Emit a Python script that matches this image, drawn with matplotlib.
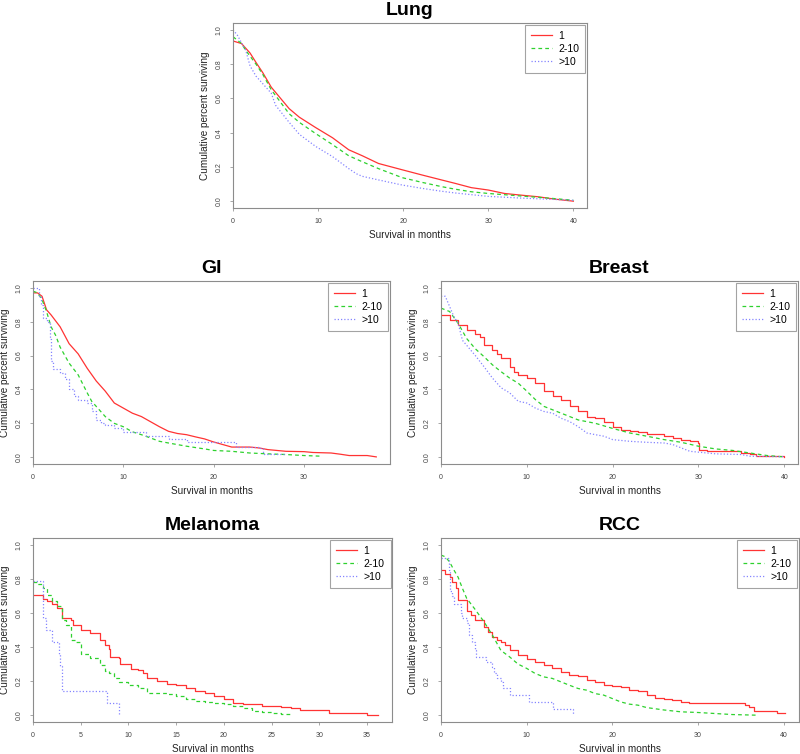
import matplotlib
matplotlib.use("Agg")
import matplotlib.pyplot as plt
from matplotlib.ticker import MultipleLocator, FormatStrFormatter

plt.rcParams["font.family"] = ["Liberation Sans", "DejaVu Sans"]

groups = ["1", "2-10", ">10"]
colors = ["#ff3333", "#2ed12e", "#8585ff"]
styles = ["-", (0, (3, 2.5)), (0, (1, 1.6))]

# Lung
lung_t1 = [0, 1, 2, 2.7, 3.5, 4.5, 6.6, 7.8, 9.7, 11.7, 13.6, 15.2, 17.1, 19.9, 22.2, 24.5, 26.1, 28, 30, 31.9, 33.9, 35.8, 37.8, 40]
lung_s1 = [0.935, 0.92, 0.865, 0.81, 0.75, 0.665, 0.54, 0.49, 0.43, 0.37, 0.3, 0.265, 0.22, 0.183, 0.153, 0.124, 0.104, 0.079, 0.065, 0.045, 0.035, 0.026, 0.012, 0.0]
lung_t2 = [0, 1, 1.5, 2.7, 3.5, 4.5, 6.6, 7.8, 9.7, 11.7, 13.6, 15.2, 17.1, 19.9, 22.2, 24.5, 26.1, 28, 30, 33.9, 37.8, 40]
lung_s2 = [0.96, 0.92, 0.88, 0.8, 0.74, 0.65, 0.51, 0.46, 0.395, 0.33, 0.265, 0.23, 0.19, 0.137, 0.11, 0.085, 0.07, 0.055, 0.045, 0.03, 0.015, 0.005]
lung_t3 = [0, 0.5, 1.5, 2, 2.7, 4.5, 5, 6.6, 7.8, 9.7, 11.7, 13.6, 14.5, 15.2, 17.1, 19.9, 22.2, 24.5, 26.1, 28, 30, 33.9, 37.8, 40]
lung_s3 = [1.0, 0.97, 0.88, 0.79, 0.73, 0.63, 0.56, 0.46, 0.39, 0.32, 0.26, 0.19, 0.16, 0.145, 0.124, 0.094, 0.075, 0.058, 0.048, 0.038, 0.028, 0.018, 0.01, 0.005]

# GI
gi_t1 = [0, 0.5, 1, 1.5, 2, 3, 4, 5, 6, 7, 8, 9, 10, 11, 12, 13, 14, 15, 16, 17, 18, 19, 20, 21, 22, 24, 25, 26, 28, 30, 31, 33, 34, 35, 37, 38]
gi_s1 = [0.97, 0.97, 0.95, 0.87, 0.84, 0.77, 0.67, 0.61, 0.525, 0.45, 0.39, 0.32, 0.29, 0.26, 0.24, 0.21, 0.18, 0.153, 0.14, 0.133, 0.12, 0.108, 0.09, 0.075, 0.06, 0.06, 0.055, 0.045, 0.035, 0.033, 0.028, 0.025, 0.018, 0.01, 0.01, 0.002]
gi_t2 = [0, 0.5, 1, 1.5, 2, 2.5, 3, 4, 5, 6, 6.5, 7, 8, 9, 10, 11, 12, 13, 14, 15, 17, 19, 20, 22, 24, 26, 28, 30, 32]
gi_s2 = [0.98, 0.97, 0.93, 0.86, 0.77, 0.72, 0.65, 0.555, 0.486, 0.38, 0.33, 0.3, 0.24, 0.2, 0.18, 0.15, 0.133, 0.114, 0.094, 0.084, 0.065, 0.049, 0.04, 0.035, 0.025, 0.02, 0.016, 0.01, 0.006]
gi_t3 = [0, 0.7, 0.9, 1.1, 1.6, 1.9, 2.0, 2.2, 3, 3.5, 4, 4.5, 5, 6, 6.5, 7, 7.5, 8, 9, 10, 12.5, 15, 17, 22.5, 25, 25.5, 28]
gi_s3 = [1.0, 0.95, 0.9, 0.82, 0.8, 0.7, 0.57, 0.52, 0.5, 0.46, 0.4, 0.36, 0.34, 0.32, 0.27, 0.22, 0.2, 0.19, 0.17, 0.15, 0.125, 0.108, 0.088, 0.06, 0.055, 0.02, 0.02]

# Breast
br_t1 = [0, 1, 1.1, 2, 3, 4, 4.5, 5, 6, 6.5, 7, 8, 8.5, 9, 10, 11, 12, 13, 14, 15, 16, 17, 18, 19, 20, 21, 22, 23, 24, 26, 27, 28, 29, 30, 30.1, 31, 33, 35, 36, 36.7, 40]
br_s1 = [0.84, 0.83, 0.81, 0.78, 0.75, 0.73, 0.71, 0.66, 0.63, 0.61, 0.585, 0.535, 0.505, 0.486, 0.467, 0.44, 0.39, 0.36, 0.34, 0.3, 0.27, 0.24, 0.23, 0.21, 0.18, 0.16, 0.153, 0.147, 0.14, 0.124, 0.114, 0.1, 0.094, 0.084, 0.04, 0.035, 0.035, 0.025, 0.02, 0.006, 0.003]
br_t2 = [0, 1, 2, 3, 4, 5, 6, 7, 8, 9, 10, 11, 12, 13, 14, 15, 16, 18, 20, 22, 24, 26, 28, 30, 32, 34, 36, 38, 40]
br_s2 = [0.88, 0.86, 0.79, 0.7, 0.64, 0.594, 0.545, 0.505, 0.467, 0.437, 0.39, 0.34, 0.3, 0.28, 0.26, 0.24, 0.22, 0.2, 0.17, 0.143, 0.124, 0.104, 0.088, 0.065, 0.049, 0.04, 0.025, 0.01, 0.002]
br_t3 = [0, 0.5, 1, 1.5, 2, 2.5, 3, 4, 5, 6, 7, 8, 9, 10, 11, 12, 13, 14, 15, 16, 17, 18, 19, 20, 22, 24, 26, 27, 28, 29, 30, 32, 35, 36, 40]
br_s3 = [0.95, 0.95, 0.89, 0.83, 0.79, 0.69, 0.66, 0.6, 0.535, 0.467, 0.41, 0.38, 0.33, 0.32, 0.29, 0.27, 0.26, 0.23, 0.21, 0.18, 0.143, 0.133, 0.124, 0.104, 0.094, 0.088, 0.084, 0.075, 0.055, 0.035, 0.03, 0.02, 0.016, 0.006, 0.003]

# Melanoma
mel_t1 = [0, 1, 1.5, 2, 2.5, 3, 4, 4.2, 5, 6, 7, 7.5, 8, 8.1, 9, 9.1, 10, 10.3, 11, 11.5, 12, 13, 14, 15, 16, 17, 18, 19, 20, 21, 22, 24, 26, 27, 28, 30, 31, 34, 35, 36.2]
mel_s1 = [0.706, 0.68, 0.67, 0.65, 0.63, 0.57, 0.56, 0.53, 0.5, 0.48, 0.44, 0.41, 0.39, 0.34, 0.333, 0.3, 0.3, 0.27, 0.265, 0.245, 0.216, 0.2, 0.186, 0.176, 0.16, 0.143, 0.133, 0.114, 0.098, 0.073, 0.063, 0.055, 0.049, 0.043, 0.03, 0.03, 0.014, 0.014, 0.004, 0.004]
mel_t2 = [0, 0.5, 1, 1.5, 2, 2.5, 3, 3.5, 4, 4.5, 5, 6, 7, 7.5, 8, 8.5, 9, 10, 11, 12, 14, 15, 16, 17, 18, 19, 20, 21, 22, 23, 24, 25, 26, 27]
mel_s2 = [0.78, 0.77, 0.745, 0.706, 0.67, 0.64, 0.56, 0.53, 0.44, 0.43, 0.36, 0.333, 0.294, 0.26, 0.245, 0.216, 0.196, 0.176, 0.16, 0.131, 0.127, 0.114, 0.094, 0.082, 0.078, 0.073, 0.063, 0.055, 0.04, 0.025, 0.02, 0.014, 0.006, 0.0]
mel_t3 = [0, 1, 1.4, 2, 2.7, 2.85, 3, 7.8, 9]
mel_s3 = [0.786, 0.571, 0.5, 0.429, 0.357, 0.286, 0.143, 0.071, 0.0]

# RCC
rcc_t1 = [0, 0.5, 1, 1.3, 1.7, 2, 2.5, 3, 3.5, 4, 5, 5.5, 6, 6.5, 7, 7.5, 8, 9, 10, 11, 12, 13, 14, 15, 16, 17, 18, 19, 20, 21, 22, 23, 24, 25, 26, 27, 28, 29, 35, 35.5, 36, 36.5, 39, 39.2, 40.2]
rcc_s1 = [0.85, 0.83, 0.81, 0.78, 0.745, 0.676, 0.676, 0.61, 0.59, 0.56, 0.52, 0.49, 0.46, 0.44, 0.43, 0.415, 0.38, 0.353, 0.33, 0.31, 0.294, 0.275, 0.255, 0.235, 0.23, 0.206, 0.196, 0.18, 0.17, 0.167, 0.147, 0.14, 0.118, 0.1, 0.098, 0.088, 0.078, 0.069, 0.069, 0.059, 0.049, 0.025, 0.025, 0.014, 0.014]
rcc_t2 = [0, 0.5, 1, 1.5, 2, 2.5, 3, 4, 5, 6, 7, 8, 9, 10, 11, 12, 13, 14, 15, 16, 17, 18, 19, 20, 21, 22, 23, 24, 26, 28, 30, 32, 34, 37]
rcc_s2 = [0.94, 0.93, 0.9, 0.853, 0.81, 0.745, 0.686, 0.62, 0.55, 0.47, 0.38, 0.343, 0.3, 0.275, 0.245, 0.225, 0.216, 0.196, 0.176, 0.157, 0.147, 0.127, 0.118, 0.098, 0.078, 0.065, 0.059, 0.045, 0.031, 0.02, 0.016, 0.01, 0.004, 0.0]
rcc_t3 = [0, 0.9, 1.1, 1.3, 1.5, 2.3, 2.5, 3, 3.3, 3.6, 4, 4.1, 5.2, 6, 6.2, 6.5, 7, 7.2, 8, 10.3, 13.1, 15.4]
rcc_s3 = [0.92, 0.85, 0.73, 0.7, 0.65, 0.6, 0.57, 0.54, 0.47, 0.43, 0.38, 0.343, 0.31, 0.284, 0.245, 0.216, 0.196, 0.157, 0.118, 0.078, 0.039, 0.0]

# "default" = many small events (smooth), "steps-post" = visible steps
panels = [
    ("Lung", [0.29125, 0.7241, 0.4425, 0.2454], 10,
     [(lung_t1, lung_s1), (lung_t2, lung_s2), (lung_t3, lung_s3)],
     ["default", "default", "default"]),
    ("GI", [0.04125, 0.3846, 0.44625, 0.2427], 10,
     [(gi_t1, gi_s1), (gi_t2, gi_s2), (gi_t3, gi_s3)],
     ["default", "default", "steps-post"]),
    ("Breast", [0.55125, 0.3846, 0.44625, 0.2427], 10,
     [(br_t1, br_s1), (br_t2, br_s2), (br_t3, br_s3)],
     ["steps-post", "default", "default"]),
    ("Melanoma", [0.04125, 0.0424, 0.449, 0.244], 5,
     [(mel_t1, mel_s1), (mel_t2, mel_s2), (mel_t3, mel_s3)],
     ["steps-post", "steps-post", "steps-post"]),
    ("RCC", [0.55125, 0.0424, 0.4475, 0.244], 10,
     [(rcc_t1, rcc_s1), (rcc_t2, rcc_s2), (rcc_t3, rcc_s3)],
     ["steps-post", "default", "steps-post"]),
]

fig = plt.figure(figsize=(8, 7.54), dpi=100)

for title, rect, xstep, series, draws in panels:
    ax = fig.add_axes(rect)
    for (t, s), lab, c, ls, ds in zip(series, groups, colors, styles, draws):
        ax.plot(t, s, color=c, linestyle=ls, lw=0.9, label=lab, drawstyle=ds)
    tmax = max(max(t) for t, _ in series)
    ax.set_xlim(0, tmax * 1.04)
    ax.set_ylim(-0.04, 1.04)
    ax.xaxis.set_major_locator(MultipleLocator(xstep))
    ax.yaxis.set_major_locator(MultipleLocator(0.2))
    ax.yaxis.set_major_formatter(FormatStrFormatter("%.1f"))
    ax.tick_params(labelsize=5, colors="#999999", labelcolor="#444444",
                   length=2.5, width=0.6, pad=5)
    ax.tick_params(axis="y", labelrotation=90)
    for lbl in ax.get_yticklabels():
        lbl.set_va("center")
    for sp in ax.spines.values():
        sp.set_color("#8c8c8c")
        sp.set_linewidth(0.8)
    ax.set_title(title, fontsize=14, fontweight="bold", pad=6)
    ax.set_xlabel("Survival in months", fontsize=7.2, color="#222222")
    ax.set_ylabel("Cumulative percent surviving", fontsize=7.2, color="#222222")
    bb = ax.get_position()
    w_px = bb.width * 800
    h_px = bb.height * 754
    ax.xaxis.set_label_coords(0.5, -27 / h_px)
    ax.xaxis.label.set_va("center")
    ax.yaxis.set_label_coords(-28 / w_px, 0.5)
    ax.yaxis.label.set_va("center")
    leg = ax.legend(loc="upper right", fontsize=7.5, frameon=True, fancybox=False,
                    borderaxespad=0.15, handlelength=2.0, handletextpad=0.6,
                    labelspacing=0.3, borderpad=0.6)
    leg.get_frame().set_edgecolor("#8c8c8c")
    leg.get_frame().set_linewidth(0.8)

fig.savefig("out.png", dpi=100)
